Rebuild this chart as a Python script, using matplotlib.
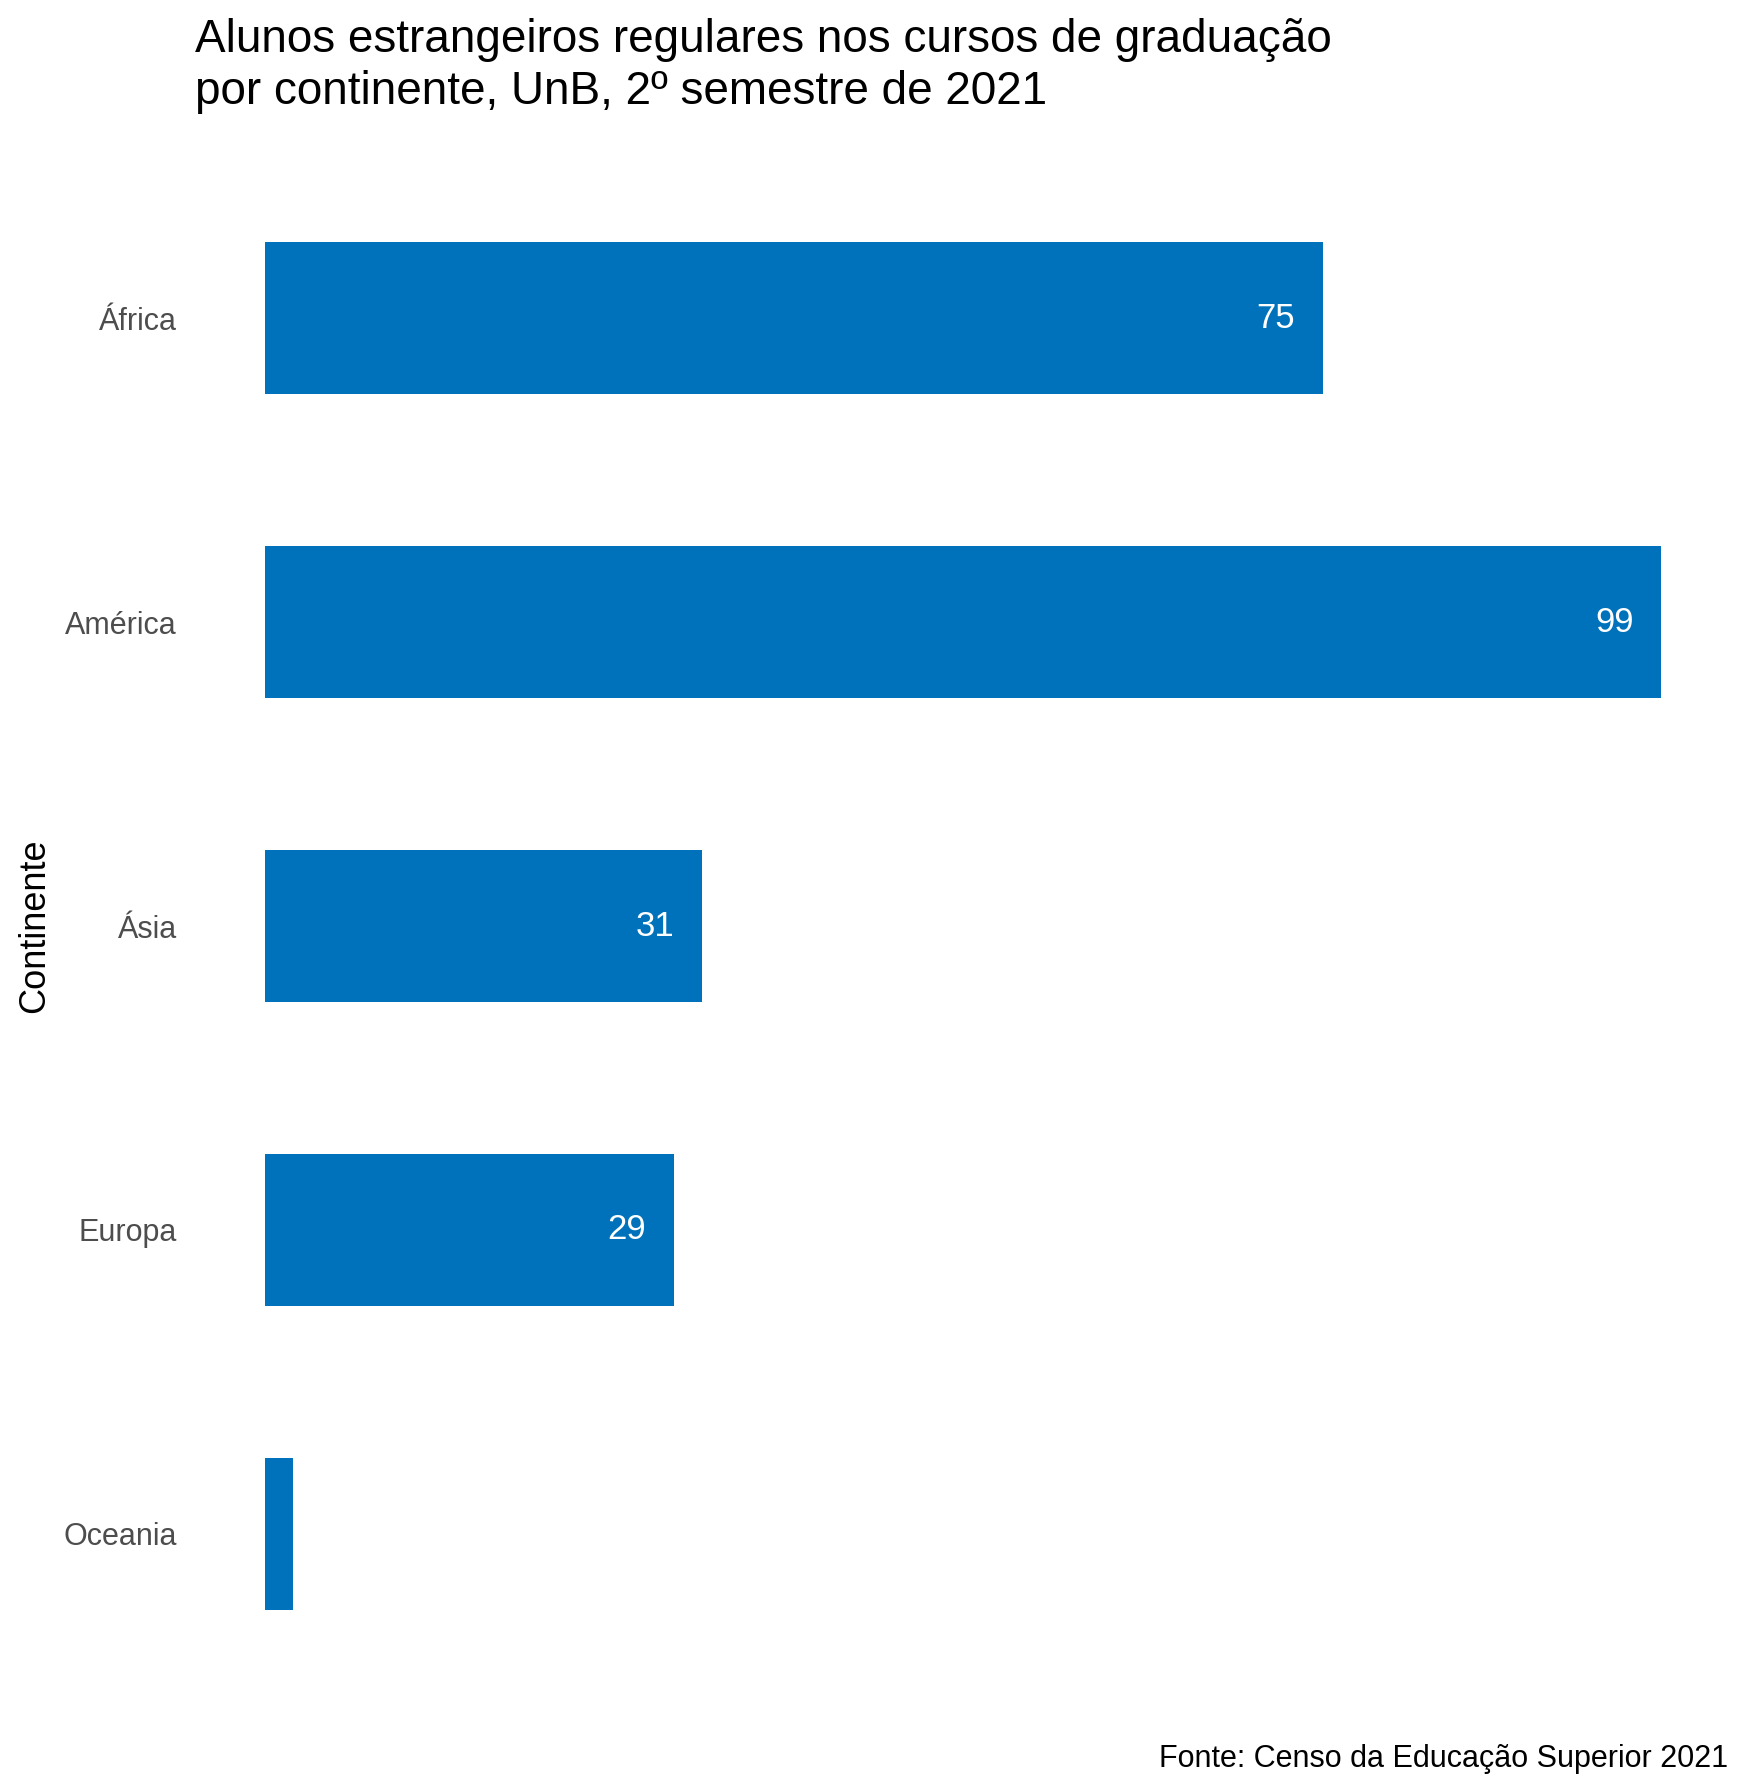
import matplotlib.pyplot as plt
import numpy as np

plt.rcParams['font.family'] = ['Liberation Sans', 'DejaVu Sans']

continentes = ["África", "América", "Ásia", "Europa", "Oceania"]
alunos = [75, 99, 31, 29, 2]
rotulos = ["75", "99", "31", "29", ""]

fig = plt.figure(figsize=(17.5, 17.92), dpi=100)
ax = fig.add_axes([195 / 1750, 1 - 1716 / 1792, 1536 / 1750, 1580 / 1792])

y = np.arange(len(continentes))
ax.barh(y, alunos, height=0.5, color="#0072BB")
for yi, v, r in zip(y, alunos, rotulos):
    ax.annotate(r, (v, yi), xytext=(-20, 0), textcoords="offset points",
                ha="right", va="center", color="white", fontsize=25)

ax.set_ylim(len(continentes) - 0.4, -0.6)
ax.set_xlim(-0.05 * 99, 99 * 1.05)
ax.set_yticks(y)
ax.set_yticklabels(continentes, fontsize=22, color="#4D4D4D")
ax.tick_params(axis="y", length=0, pad=13)
ax.set_xticks([])
for s in ax.spines.values():
    s.set_visible(False)

ax.set_ylabel("Continente", fontsize=26)
ax.yaxis.set_label_coords(-(195 - 52) / 1536, 0.5)

fig.text(195 / 1750, 1 - 18 / 1792,
         "Alunos estrangeiros regulares nos cursos de graduação\npor continente, UnB, 2º semestre de 2021",
         fontsize=33, va="top", ha="left", linespacing=1.25)
fig.text(1728 / 1750, 1 - 1767 / 1792, "Fonte: Censo da Educação Superior 2021",
         fontsize=22, ha="right", va="baseline")

fig.savefig("out.png", dpi=100)
